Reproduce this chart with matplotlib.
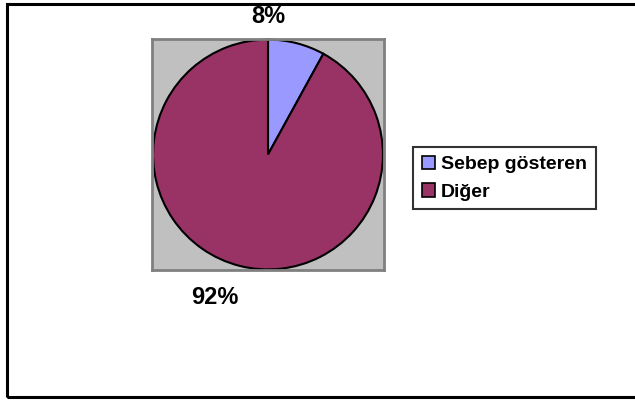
import matplotlib.pyplot as plt
from matplotlib.patches import Rectangle

labels = ['Sebep gösteren', 'Diğer']
values = [8, 92]
colors = ['#9999FF', '#993366']
pct_text = ['8%', '92%']

plt.rcParams['font.family'] = ['Liberation Sans', 'DejaVu Sans']

fig = plt.figure(figsize=(6.35, 4), dpi=100)
fig.patch.set_facecolor('white')

# outer chart border (right side runs off the picture)
fig.patches.append(Rectangle((7 / 635, 3 / 400), 1.2, 393 / 400, transform=fig.transFigure,
                             fill=False, edgecolor='black', linewidth=2.2, zorder=0))

ax = fig.add_axes([152 / 635, 130 / 400, 232 / 635, 231 / 400])
ax.set_facecolor('#C0C0C0')
wedges, _ = ax.pie(values, colors=colors, startangle=90, counterclock=False, radius=1,
                   wedgeprops=dict(edgecolor='black', linewidth=1.5), frame=True)
ax.set_xlim(-1.005, 1.005)
ax.set_ylim(-1.005, 1.005)
ax.set_xticks([])
ax.set_yticks([])
for s in ax.spines.values():
    s.set_color('#808080')
    s.set_linewidth(2)

ax.text(0.0, 1.2, pct_text[0], ha='center', va='center', fontsize=17, fontweight='bold')
ax.text(-0.46, -1.24, pct_text[1], ha='center', va='center', fontsize=17, fontweight='bold')

leg = fig.legend(wedges, labels, loc='upper left', bbox_to_anchor=(413 / 635, 253 / 400),
                 prop=dict(size=14, weight='bold'), frameon=True, fancybox=False,
                 handlelength=0.7, handleheight=0.7, handletextpad=0.3,
                 borderpad=0.45, labelspacing=0.5, borderaxespad=0)
leg.get_frame().set_edgecolor('black')
leg.get_frame().set_linewidth(1.5)
for h in leg.legend_handles:
    h.set_edgecolor('black')
    h.set_linewidth(1.2)

plt.savefig('out.png', dpi=100)
